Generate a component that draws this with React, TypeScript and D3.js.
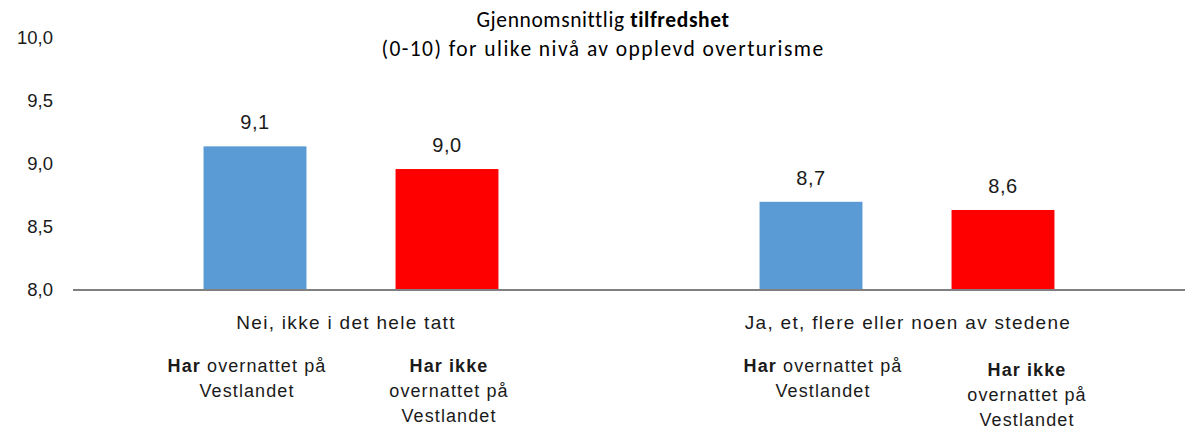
import React from "react";
import * as d3 from "d3";

// ---------- data ----------
const groups = ["Nei, ikke i det hele tatt", "Ja, et, flere eller noen av stedene"];
const seriesKeys = ["har", "harIkke"];
const harValues = [9.14, 8.7];
const harIkkeValues = [8.96, 8.635];
const yTicks = [8.0, 8.5, 9.0, 9.5, 10.0];
const titleLine1 = ["Gjennomsnittlig ", "tilfredshet"];
const titleLine2 = "(0-10) for ulike nivå av opplevd overturisme";
// sub-labels per series: lines of [text, bold]
const subLabels: [string, boolean][][][] = [
  [[["Har", true], [" overnattet på", false]], [["Vestlandet", false]]],
  [[["Har ikke", true]], [["overnattet på", false]], [["Vestlandet", false]]],
];

// ---------- style ----------
const W = 1190;
const H = 432;
const colors = ["#5B9BD5", "#FF0000"];
const sans = "'Liberation Sans', Arial, Helvetica, sans-serif";
const titleFont = "Carlito, Calibri, Lato, 'Open Sans', sans-serif";
const subDx = [[-8, 2], [12, 24]];
const subDy = [[0, 0], [0, 4]];
const catDx = [-5, 1];

if (typeof document !== "undefined") document.body.style.margin = "0";

export default function App() {
  const x0 = d3.scaleBand<string>().domain(groups).range([73, 1185]).padding(0);
  const x1 = d3
    .scaleBand<string>()
    .domain(seriesKeys)
    .range([0, x0.bandwidth()])
    .paddingInner(0.464)
    .paddingOuter(0.68);
  const y = d3.scaleLinear().domain([8, 10]).range([290, 38]);
  const fmt = (v: number) => v.toFixed(1).replace(".", ",");
  const values = [harValues, harIkkeValues];

  return (
    <svg width={W} height={H} style={{ display: "block", background: "#fff" }}>
      {/* title */}
      <text x={603} y={27} textAnchor="middle" fontFamily={titleFont} fontSize={21.5} letterSpacing={0.6} fill="#000">
        <tspan>{titleLine1[0]}</tspan>
        <tspan fontWeight="bold">{titleLine1[1]}</tspan>
      </text>
      <text x={603} y={56} textAnchor="middle" fontFamily={titleFont} fontSize={21.5} letterSpacing={1.45} fill="#000">
        {titleLine2}
      </text>

      {/* y tick labels */}
      {yTicks.map((t) => (
        <text
          key={t}
          x={53}
          y={y(t)}
          dy="0.35em"
          textAnchor="end"
          fontFamily={sans}
          fontSize={18.5}
          fill="#1a1a1a"
        >
          {fmt(t)}
        </text>
      ))}

      {/* bars */}
      {groups.map((g, gi) =>
        seriesKeys.map((s, si) => {
          const v = values[si][gi];
          const bx = (x0(g) ?? 0) + (x1(s) ?? 0);
          const bw = x1.bandwidth();
          return (
            <g key={g + s}>
              <rect x={bx} y={y(v)} width={bw} height={y(8) - y(v)} fill={colors[si]} />
              <text
                x={bx + bw / 2}
                y={y(v) - 17}
                textAnchor="middle"
                fontFamily={sans}
                fontSize={20}
                letterSpacing={0.6}
                fill="#1a1a1a"
              >
                {fmt(v)}
              </text>
            </g>
          );
        })
      )}

      {/* axis line */}
      <line x1={73} x2={1185} y1={y(8)} y2={y(8)} stroke="#808080" strokeWidth={2} />

      {/* category labels */}
      {groups.map((g, gi) => (
        <text
          key={g}
          x={(x0(g) ?? 0) + x0.bandwidth() / 2 + catDx[gi]}
          y={329}
          textAnchor="middle"
          fontFamily={sans}
          fontSize={19}
          letterSpacing={1.3}
          fill="#1a1a1a"
        >
          {g}
        </text>
      ))}

      {/* sub labels */}
      {groups.map((g, gi) =>
        seriesKeys.map((s, si) => {
          const cx = (x0(g) ?? 0) + (x1(s) ?? 0) + x1.bandwidth() / 2 + subDx[gi][si];
          return subLabels[si].map((line, li) => (
            <text
              key={g + s + li}
              x={cx}
              y={372 + subDy[gi][si] + li * 25}
              textAnchor="middle"
              fontFamily={sans}
              fontSize={18}
              letterSpacing={1.1}
              fill="#1a1a1a"
            >
              {line.map(([t, b], k) => (
                <tspan key={k} fontWeight={b ? "bold" : "normal"}>
                  {t}
                </tspan>
              ))}
            </text>
          ));
        })
      )}
    </svg>
  );
}
